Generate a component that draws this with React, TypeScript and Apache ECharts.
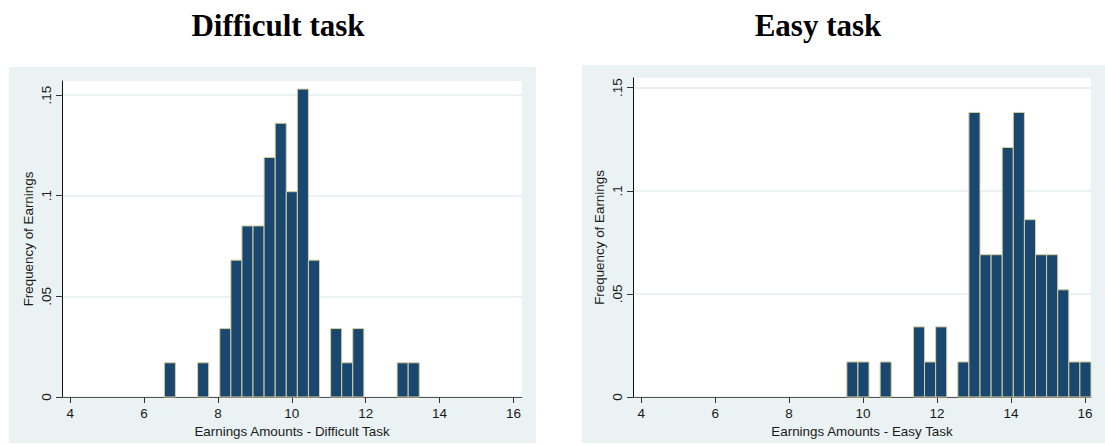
import React, { useEffect, useRef } from "react";
import * as echarts from "echarts";

// Histogram bins: left edge of each bin and the fraction of observations in it
const BIN_WIDTH = 0.3;

const difficultBinStart = [
  6.55, 6.85, 7.15, 7.45, 7.75, 8.05, 8.35, 8.65, 8.95, 9.25, 9.55, 9.85,
  10.15, 10.45, 10.75, 11.05, 11.35, 11.65, 11.95, 12.25, 12.55, 12.85, 13.15,
];
const difficultFraction = [
  0.017, 0, 0, 0.017, 0, 0.034, 0.068, 0.085, 0.085, 0.119, 0.136, 0.102,
  0.153, 0.068, 0, 0.034, 0.017, 0.034, 0, 0, 0, 0.017, 0.017,
];

const easyBinStart = [
  9.56, 9.86, 10.16, 10.46, 10.76, 11.06, 11.36, 11.66, 11.96, 12.26, 12.56,
  12.86, 13.16, 13.46, 13.76, 14.06, 14.36, 14.66, 14.96, 15.26, 15.56, 15.86,
];
const easyFraction = [
  0.017, 0.017, 0, 0.017, 0, 0, 0.034, 0.017, 0.034, 0, 0.017, 0.138, 0.069,
  0.069, 0.121, 0.138, 0.086, 0.069, 0.069, 0.052, 0.017, 0.017,
];

const xTickValues = [4, 6, 8, 10, 12, 14, 16];
const yTickValues = [0, 0.05, 0.1, 0.15];
const yTickLabels = ["0", ".05", ".1", ".15"];

const panelTitles = ["Difficult task", "Easy task"];
const xAxisTitles = [
  "Earnings Amounts - Difficult Task",
  "Earnings Amounts - Easy Task",
];
const yAxisTitle = "Frequency of Earnings";

const BAR_FILL = "#1a476f";
const BAR_EDGE = "#d6cf9e";
const PANEL_BG = "#eaf2f3";
const GRID_LINE = "#e3ecee";
const SANS = "'Liberation Sans', Arial, sans-serif";
const SERIF = "'Liberation Serif', 'Times New Roman', serif";

function binRows(starts: number[], values: number[]) {
  return starts.map((s, i) => [s, s + BIN_WIDTH, values[i]]);
}

function renderBar(params: any, api: any) {
  const v = api.value(2);
  if (!(v > 0)) return null;
  const p0 = api.coord([api.value(0), v]);
  const p1 = api.coord([api.value(1), 0]);
  return {
    type: "rect",
    shape: { x: p0[0], y: p0[1], width: p1[0] - p0[0], height: p1[1] - p0[1] },
    style: { fill: BAR_FILL, stroke: BAR_EDGE, lineWidth: 1 },
  };
}

function yLabel(v: number) {
  const i = yTickValues.findIndex((t) => Math.abs(t - v) < 1e-6);
  return i >= 0 ? yTickLabels[i] : "";
}

function makeXAxis(gridIndex: number, max: number) {
  return {
    type: "value",
    gridIndex,
    min: 3.78,
    max,
    name: xAxisTitles[gridIndex],
    nameLocation: "middle",
    nameGap: 28,
    nameTextStyle: { fontFamily: SANS, fontSize: 13.4, color: "#1a1a1a" },
    axisLine: { show: true, onZero: false, lineStyle: { color: "#555", width: 1 } },
    axisTick: {
      show: true,
      customValues: xTickValues,
      length: 6,
      lineStyle: { color: "#333", width: 1 },
    },
    axisLabel: {
      customValues: xTickValues,
      margin: 9,
      fontFamily: SANS,
      fontSize: 13.5,
      color: "#1a1a1a",
      formatter: (v: number) => String(v),
    },
    splitLine: { show: false },
  };
}

function makeYAxis(gridIndex: number, max: number) {
  return {
    type: "value",
    gridIndex,
    min: 0,
    max,
    name: yAxisTitle,
    nameLocation: "middle",
    nameGap: 27,
    nameTextStyle: { fontFamily: SANS, fontSize: 13.4, color: "#1a1a1a" },
    axisLine: { show: true, onZero: false, lineStyle: { color: "#111", width: 1 } },
    axisTick: {
      show: true,
      customValues: yTickValues,
      length: 6,
      lineStyle: { color: "#333", width: 1 },
    },
    axisLabel: {
      customValues: yTickValues,
      rotate: 90,
      margin: 9,
      fontFamily: SANS,
      fontSize: 13.5,
      color: "#1a1a1a",
      formatter: yLabel,
    },
    splitLine: { show: true, lineStyle: { color: GRID_LINE, width: 1.5 } },
  };
}

export default function App() {
  const ref = useRef<HTMLDivElement>(null);

  useEffect(() => {
    if (!ref.current) return;
    const chart = echarts.init(ref.current, undefined, { renderer: "svg" });

    chart.setOption({
      animation: false,
      backgroundColor: "#ffffff",
      graphic: [
        {
          type: "rect",
          z: -10,
          shape: { x: 9, y: 67, width: 527, height: 376 },
          style: { fill: PANEL_BG },
        },
        {
          type: "rect",
          z: -10,
          shape: { x: 582, y: 65, width: 523, height: 378 },
          style: { fill: PANEL_BG },
        },
        {
          type: "text",
          x: 278,
          y: 25,
          style: {
            text: panelTitles[0],
            fontFamily: SERIF,
            fontWeight: "bold",
            fontSize: 31,
            fill: "#000",
            align: "center",
            verticalAlign: "middle",
          },
        },
        {
          type: "text",
          x: 818,
          y: 25,
          style: {
            text: panelTitles[1],
            fontFamily: SERIF,
            fontWeight: "bold",
            fontSize: 31,
            fill: "#000",
            align: "center",
            verticalAlign: "middle",
          },
        },
      ],
      grid: [
        {
          left: 62,
          top: 81,
          right: 583,
          bottom: 49,
          show: true,
          backgroundColor: "#ffffff",
          borderWidth: 0,
        },
        {
          left: 633,
          top: 78,
          right: 14,
          bottom: 49,
          show: true,
          backgroundColor: "#ffffff",
          borderWidth: 0,
        },
      ],
      xAxis: [makeXAxis(0, 16.23), makeXAxis(1, 16.16)],
      yAxis: [makeYAxis(0, 0.157), makeYAxis(1, 0.1547)],
      series: [
        {
          type: "custom",
          xAxisIndex: 0,
          yAxisIndex: 0,
          renderItem: renderBar,
          data: binRows(difficultBinStart, difficultFraction),
          encode: { x: [0, 1], y: 2 },
        },
        {
          type: "custom",
          xAxisIndex: 1,
          yAxisIndex: 1,
          renderItem: renderBar,
          data: binRows(easyBinStart, easyFraction),
          encode: { x: [0, 1], y: 2 },
        },
      ],
    });

    return () => chart.dispose();
  }, []);

  return (
    <div
      ref={ref}
      style={{ position: "absolute", left: 0, top: 0, width: 1105, height: 446 }}
    />
  );
}
